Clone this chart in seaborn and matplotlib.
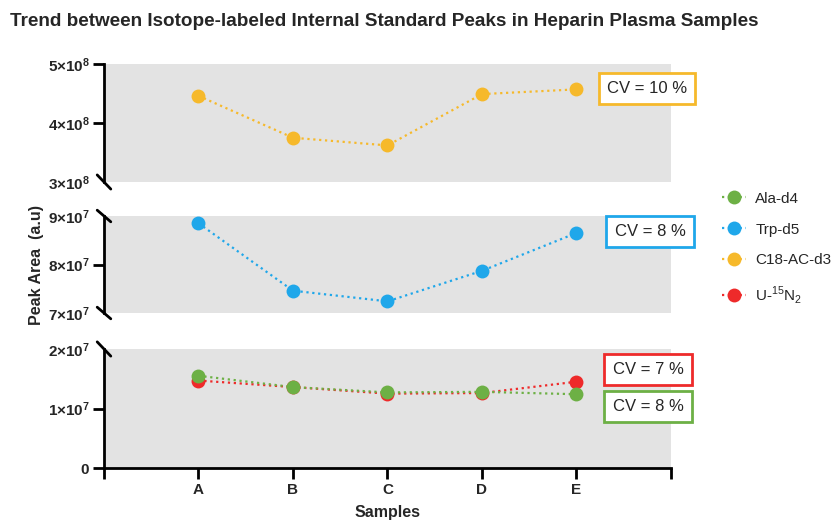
import matplotlib
matplotlib.use("Agg")
import matplotlib.pyplot as plt
import seaborn as sns
import pandas as pd
from matplotlib.lines import Line2D

samples = ["A", "B", "C", "D", "E"]
ala_d4 = [1.55e7, 1.36e7, 1.27e7, 1.28e7, 1.24e7]
trp_d5 = [8.85e7, 7.46e7, 7.24e7, 7.87e7, 8.65e7]
c18_ac_d3 = [4.46e8, 3.75e8, 3.62e8, 4.49e8, 4.57e8]
u15n2 = [1.47e7, 1.36e7, 1.25e7, 1.26e7, 1.45e7]

series_names = ["Ala-d4", "Trp-d5", "C18-AC-d3", r"U-$^{15}$N$_2$"]
colors = {"Ala-d4": "#6DB045", "Trp-d5": "#1FA7EA", "C18-AC-d3": "#F6B92B",
          r"U-$^{15}$N$_2$": "#EE2A2A"}
cv_labels = ["CV = 10 %", "CV = 8 %", "CV = 7 %", "CV = 8 %"]

sns.set_theme(style="white")
plt.rcParams["font.family"] = ["Liberation Sans", "DejaVu Sans"]
plt.rcParams["mathtext.fontset"] = "custom"
plt.rcParams["mathtext.rm"] = "Liberation Sans"
plt.rcParams["mathtext.bf"] = "Liberation Sans:bold"

W, H = 837, 522
fig = plt.figure(figsize=(W / 100, H / 100), dpi=100)

def add_ax(x0, y0, x1, y1):
    return fig.add_axes([x0 / W, 1 - y1 / H, (x1 - x0) / W, (y1 - y0) / H])

ax_top = add_ax(104, 64, 671, 182)
ax_mid = add_ax(104, 216, 671, 313)
ax_bot = add_ax(104, 349, 671, 468)

xpos = list(range(len(samples)))
df = pd.DataFrame({"x": xpos * 4,
                   "y": c18_ac_d3 + trp_d5 + ala_d4 + u15n2,
                   "series": (["C18-AC-d3"] * 5 + ["Trp-d5"] * 5 + ["Ala-d4"] * 5
                              + [r"U-$^{15}$N$_2$"] * 5)})

def draw(ax, names):
    for n in names:
        d = df[df.series == n]
        sns.lineplot(data=d, x="x", y="y", ax=ax, color=colors[n], linestyle=":",
                     linewidth=1.6, marker="o", markersize=10, markeredgewidth=0,
                     legend=False)

draw(ax_top, ["C18-AC-d3"])
draw(ax_mid, ["Trp-d5"])
draw(ax_bot, [r"U-$^{15}$N$_2$", "Ala-d4"])

def sci(v):
    if v == 0:
        return r"$\mathbf{0}$"
    e = 0
    m = v
    while m >= 10:
        m /= 10
        e += 1
    return r"$\mathbf{%d{\times}10^{%d}}$" % (round(m), e)

for ax, ylim, ticks in [(ax_top, (3e8, 5e8), [3e8, 4e8, 5e8]),
                        (ax_mid, (7e7, 9e7), [7e7, 8e7, 9e7]),
                        (ax_bot, (0, 2e7), [0, 1e7, 2e7])]:
    ax.set_facecolor("#E3E3E3")
    ax.set_xlim(-1, 5)
    ax.set_ylim(*ylim)
    ax.set_yticks(ticks)
    ax.set_yticklabels([sci(t) for t in ticks], fontsize=11, fontweight="bold")
    ax.set_xlabel("")
    ax.set_ylabel("")
    for s in ["top", "right", "bottom"]:
        ax.spines[s].set_visible(False)
    ax.spines["left"].set_linewidth(2)
    ax.spines["left"].set_color("black")
    ax.tick_params(axis="y", length=8, width=2, color="black", pad=2,
                   direction="out", left=True)

# hide tick marks at broken ends
for ax, idx in [(ax_top, [0]), (ax_mid, [0, 2]), (ax_bot, [2])]:
    tl = ax.yaxis.get_major_ticks()
    for i in idx:
        tl[i].tick1line.set_visible(False)

for ax in (ax_top, ax_mid):
    ax.set_xticks([])

ax_bot.spines["bottom"].set_visible(True)
ax_bot.spines["bottom"].set_linewidth(2)
ax_bot.spines["bottom"].set_color("black")
ax_bot.set_xticks([-1] + xpos + [5])
ax_bot.set_xticklabels([""] + samples + [""], fontsize=11, fontweight="bold")
ax_bot.tick_params(axis="x", length=8, width=2, color="black", direction="out",
                   bottom=True, pad=3)

# break marks
def brk(ax, yfrac):
    ax.plot([-0.012, 0.012], [yfrac + 0.06, yfrac - 0.06], transform=ax.transAxes,
            color="black", lw=2, clip_on=False)

brk(ax_top, 0.0)
brk(ax_mid, 1.0)
brk(ax_mid, 0.0)
brk(ax_bot, 1.0)

# CV boxes
for (cx, cy), txt, col in zip([(647, 88.5), (650, 231.5), (648, 369.5), (648, 406.5)],
                              cv_labels,
                              ["C18-AC-d3", "Trp-d5", r"U-$^{15}$N$_2$", "Ala-d4"]):
    fig.text(cx / W, 1 - cy / H, txt, ha="center", va="center", fontsize=12,
             bbox=dict(boxstyle="square,pad=0.5", facecolor="white",
                       edgecolor=colors[col], linewidth=2))

# legend
handles = [Line2D([0], [0], color=colors[n], linestyle=":", lw=1.6, marker="o",
                  markersize=10, markeredgewidth=0) for n in series_names]
fig.legend(handles, series_names, loc="upper left",
           bbox_to_anchor=(708 / W, 1 - 178 / H), frameon=False, fontsize=11,
           handlelength=1.6, labelspacing=1.1, handletextpad=0.6)

fig.text(10 / W, 1 - 22 / H,
         "Trend between Isotope-labeled Internal Standard Peaks in Heparin Plasma Samples",
         fontsize=13.6, fontweight="bold", ha="left", va="center")
fig.text(37 / W, 1 - 265 / H, "Peak Area  (a.u)", rotation=90, fontsize=11.5,
         fontweight="bold", ha="center", va="center")
fig.text(388 / W, 1 - 512 / H, "Samples", fontsize=11.5, fontweight="bold",
         ha="center", va="center")

fig.savefig("out.png", dpi=100)
